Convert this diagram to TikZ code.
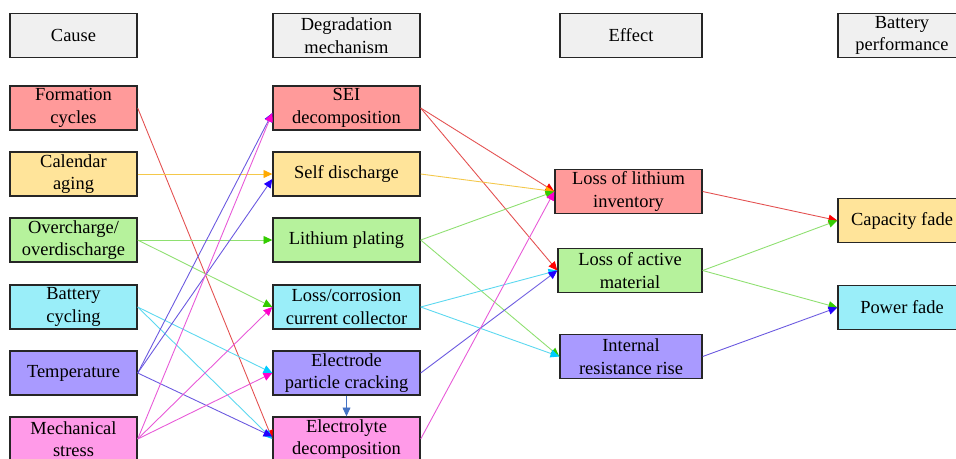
\documentclass[tikz,border=0pt]{standalone}
\usepackage{fontspec}
\setmainfont{Liberation Serif}
\usetikzlibrary{arrows.meta}
\definecolor{headfill}{HTML}{F0F0F0}
\definecolor{redfill}{HTML}{FF9A9A}
\definecolor{yelfill}{HTML}{FFE49A}
\definecolor{grnfill}{HTML}{B6F29C}
\definecolor{cyafill}{HTML}{9AEEF9}
\definecolor{purfill}{HTML}{A99AFF}
\definecolor{pinfill}{HTML}{FF9AE8}
\definecolor{redline}{HTML}{E45050}
\definecolor{yelline}{HTML}{F4C84A}
\definecolor{grnline}{HTML}{8EE070}
\definecolor{cyaline}{HTML}{5AD8F0}
\definecolor{purline}{HTML}{6A58E0}
\definecolor{pinline}{HTML}{E858D8}
\definecolor{redtip}{HTML}{FF0000}
\definecolor{yeltip}{HTML}{FFAA00}
\definecolor{grntip}{HTML}{33CC00}
\definecolor{cyatip}{HTML}{00CCFF}
\definecolor{purtip}{HTML}{2200FF}
\definecolor{pintip}{HTML}{FF00CC}
\definecolor{bluline}{HTML}{4472C4}
\tikzset{
  box/.style={draw=black!85, line width=0.8pt, minimum height=0.88cm, align=center,
    inner sep=1pt, font=\rmfamily\fontsize{10.5}{12.8}\selectfont},
  link/.style={line width=0.5pt, draw=#1line, -{Triangle[length=5pt,width=4.5pt,color=#1tip]}},
}
\begin{document}
\begin{tikzpicture}[x=0.02cm, y=-0.02cm]
			\clip (0,0) rectangle (956,458);
			\fill[white] (0,0) rectangle (956,458);
			% headers
			\node[box, fill=headfill, minimum width=2.54cm] (hcause) at (73.5,35.5) {Cause};
			\node[box, fill=headfill, minimum width=2.94cm] (hmech) at (346.5,35.5) {Degradation\\mechanism};
			\node[box, fill=headfill, minimum width=2.84cm] (heff) at (631,35.5) {Effect};
			\node[box, fill=headfill, minimum width=2.56cm] (hperf) at (902,35.5) {Battery\\performance};
			% causes
			\node[box, fill=redfill, minimum width=2.54cm] (form) at (73.5,108) {Formation\\cycles};
			\node[box, fill=yelfill, minimum width=2.54cm] (cal) at (73.5,174) {Calendar\\aging};
			\node[box, fill=grnfill, minimum width=2.54cm] (over) at (73.5,240) {Overcharge/\\overdischarge};
			\node[box, fill=cyafill, minimum width=2.54cm] (cyc) at (73.5,307) {Battery\\cycling};
			\node[box, fill=purfill, minimum width=2.54cm] (temp) at (73.5,373) {Temperature};
			\node[box, fill=pinfill, minimum width=2.54cm] (mech) at (73.5,439) {Mechanical\\stress};
			% mechanisms
			\node[box, fill=redfill, minimum width=2.94cm] (sei) at (346.5,108) {SEI\\decomposition};
			\node[box, fill=yelfill, minimum width=2.94cm] (self) at (346.5,174) {Self discharge};
			\node[box, fill=grnfill, minimum width=2.94cm] (plat) at (346.5,240) {Lithium plating};
			\node[box, fill=cyafill, minimum width=2.94cm] (corr) at (346.5,307) {Loss/corrosion\\current collector};
			\node[box, fill=purfill, minimum width=2.94cm] (crack) at (346.5,373) {Electrode\\particle cracking};
			\node[box, fill=pinfill, minimum width=2.94cm] (elyte) at (346.5,439) {Electrolyte\\decomposition};
			% effects
			\node[box, fill=redfill, minimum width=2.94cm] (lli) at (628.5,191.5) {Loss of lithium\\inventory};
			\node[box, fill=grnfill, minimum width=2.88cm] (lam) at (630,270.5) {Loss of active\\material};
			\node[box, fill=purfill, minimum width=2.84cm] (irr) at (631,356.5) {Internal\\resistance rise};
			% performance
			\node[box, fill=yelfill, minimum width=2.56cm] (cap) at (902,220.5) {Capacity fade};
			\node[box, fill=cyafill, minimum width=2.56cm] (pow) at (902,307.5) {Power fade};
			% cause -> mechanism
			\draw[link=red] (form.east) -- (elyte.west);
			\draw[link=yel] (cal.east) -- (self.west);
			\draw[link=grn] (over.east) -- (plat.west);
			\draw[link=grn] (over.east) -- (corr.west);
			\draw[link=cya] (cyc.east) -- (crack.west);
			\draw[link=cya] (cyc.east) -- (elyte.west);
			\draw[link=pur] (temp.east) -- ([yshift=-0.1cm]sei.west);
			\draw[link=pur] (temp.east) -- ([yshift=-0.1cm]self.west);
			\draw[link=pur] (temp.east) -- ([yshift=0.05cm]elyte.west);
			\draw[link=pin] (mech.east) -- ([yshift=-0.1cm]sei.west);
			\draw[link=pin] (mech.east) -- (corr.west);
			\draw[link=pin] (mech.east) -- (crack.west);
			\draw[line width=0.5pt, draw=bluline, -{Triangle[length=5pt,width=4.5pt,color=bluline]}] (crack.south) -- (elyte.north);
			% mechanism -> effect
			\draw[link=red] (sei.east) -- (lli.west);
			\draw[link=red] (sei.east) -- (lam.west);
			\draw[link=yel] (self.east) -- (lli.west);
			\draw[link=grn] (plat.east) -- (lli.west);
			\draw[link=grn] (plat.east) -- (irr.west);
			\draw[link=cya] (corr.east) -- (lam.west);
			\draw[link=cya] (corr.east) -- (irr.west);
			\draw[link=pur] (crack.east) -- (lam.west);
			\draw[link=pin] (elyte.east) -- (lli.west);
			% effect -> performance
			\draw[link=red] (lli.east) -- (cap.west);
			\draw[link=grn] (lam.east) -- (cap.west);
			\draw[link=grn] (lam.east) -- (pow.west);
			\draw[link=pur] (irr.east) -- (pow.west);
\end{tikzpicture}
\end{document}
